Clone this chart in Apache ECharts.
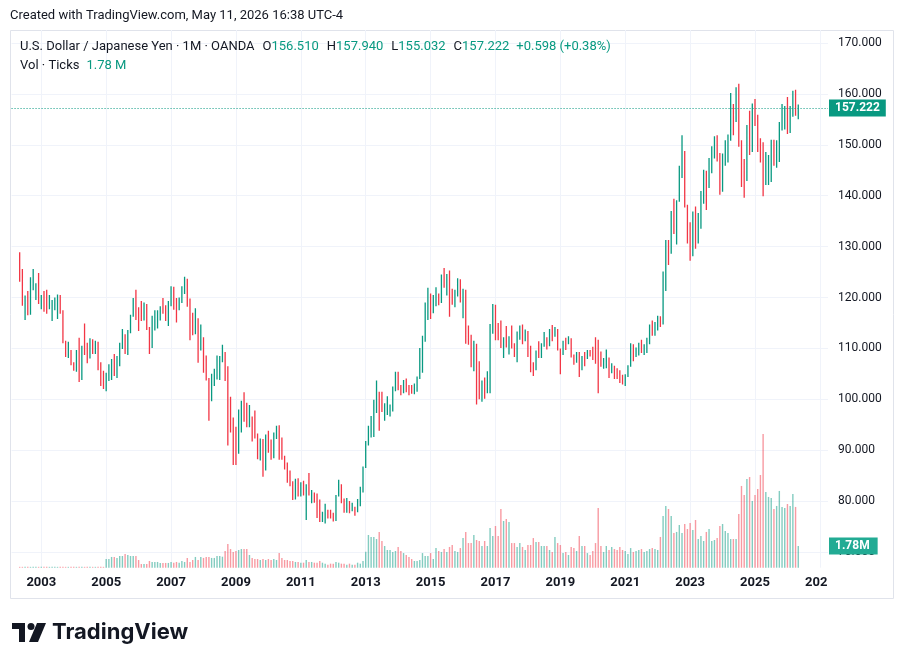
<!DOCTYPE html>
<html>
<head>
<meta charset="utf-8">
<script src="https://cdn.jsdelivr.net/npm/echarts@6/dist/echarts.min.js"></script>
<style>
  html, body { margin: 0; padding: 0; background: #ffffff; }
  #chart { width: 904px; height: 665px; }
</style>
</head>
<body>
<div id="chart"></div>
<script>
// USD/JPY monthly bars (OANDA), first bar May 2002, last bar May 2026
const firstBar = '2002-05'

const open = [
  128.6, 124.0, 119.5, 119.8, 118.4, 121.8, 122.4, 122.5, // 2002 May-Dec
  118.8, 119.9, 118.0, 117.9, 119.0, 119.3, 119.8, 120.5, 116.9, 111.4, 108.9, 109.6, // 2003
  107.2, 105.9, 109.1, 104.2, 110.4, 110.3, 108.8, 111.5, 109.3, 110.1, 105.8, 103.1, // 2004
  102.6, 103.6, 104.6, 107.2, 104.8, 108.3, 110.9, 112.4, 110.6, 113.3, 116.3, 119.6, // 2005
  117.8, 117.2, 115.9, 117.7, 113.9, 112.4, 114.5, 114.7, 117.4, 118.1, 116.9, 115.8, // 2006
  119.0, 121.0, 118.6, 117.8, 119.5, 121.7, 123.2, 119.2, 115.8, 114.8, 115.3, 111.2, // 2007
  111.7, 106.4, 104.0, 99.7, 104.0, 105.5, 106.2, 108.0, 108.8, 106.0, 98.4, 95.5, // 2008
  90.7, 89.9, 97.6, 98.9, 98.4, 95.3, 96.3, 94.7, 93.0, 89.7, 90.0, 86.2, // 2009
  93.0, 90.3, 88.9, 93.4, 94.0, 91.2, 88.4, 86.5, 84.2, 83.5, 80.4, 83.7, // 2010
  81.2, 82.1, 81.8, 83.1, 81.2, 81.5, 80.5, 76.7, 76.6, 77.0, 78.2, 77.6, // 2011
  76.9, 76.2, 81.1, 82.9, 80.0, 78.3, 79.8, 78.1, 78.4, 77.9, 79.8, 82.5, // 2012
  86.7, 91.7, 92.6, 94.2, 97.4, 100.4, 99.1, 97.9, 98.2, 98.3, 98.4, 102.4, // 2013
  105.3, 102.0, 101.8, 103.2, 102.2, 101.8, 101.3, 102.8, 104.1, 109.6, 112.3, 118.6, // 2014
  119.8, 117.5, 119.6, 120.1, 119.4, 124.1, 122.5, 124.0, 121.2, 119.9, 120.6, 123.1, // 2015
  120.2, 121.0, 112.7, 112.6, 106.5, 110.7, 103.2, 102.1, 103.4, 101.4, 104.8, 114.5, // 2016
  117.0, 112.8, 112.3, 111.4, 111.5, 110.8, 112.4, 110.3, 110.0, 112.5, 113.6, 112.5, // 2017
  112.7, 109.2, 106.7, 106.3, 109.3, 108.8, 110.7, 111.9, 111.0, 113.7, 112.9, 113.5, // 2018
  109.7, 108.9, 111.4, 110.9, 111.4, 108.3, 107.8, 108.8, 106.3, 108.1, 108.0, 109.5, // 2019
  108.7, 108.4, 107.9, 107.5, 107.2, 107.8, 107.9, 105.8, 105.9, 105.5, 104.7, 104.3, // 2020
  103.2, 104.7, 106.6, 110.7, 109.3, 109.6, 111.1, 109.7, 110.0, 111.3, 114.0, 113.2, // 2021
  115.08, 115.12, 115.0, 121.7, 129.8, 128.7, 135.7, 133.2, 138.9, 144.7, 148.7, 138.1, // 2022
  131.1, 130.1, 136.2, 132.8, 136.3, 139.3, 144.3, 142.3, 145.5, 149.4, 151.6, 148.2, // 2023
  141.0, 146.9, 150.0, 151.3, 157.8, 157.3, 160.9, 150.0, 146.2, 143.6, 152.0, 149.8, // 2024
  157.2, 155.2, 150.6, 149.9, 143.1, 144.0, 144.6, 150.7, 147.1, 148.0, 154.0, 156.1, // 2025
  156.7, 154.7, 156.0, 159.6, 156.51 // 2026 Jan-May
]

const high = [
  128.9, 125.6, 120.4, 121.3, 124.0, 125.6, 122.8, 124.8,
  120.5, 121.3, 121.5, 120.5, 119.5, 120.0, 120.6, 120.5, 117.5, 111.5, 111.3, 109.7,
  107.3, 109.7, 112.1, 110.5, 114.9, 111.1, 112.0, 111.8, 111.5, 111.3, 107.3, 105.6,
  105.2, 106.9, 107.9, 108.9, 108.5, 111.1, 113.8, 112.8, 113.6, 116.6, 119.9, 121.5,
  118.1, 119.3, 119.0, 118.7, 114.2, 116.4, 117.5, 117.5, 118.3, 119.9, 118.5, 119.3,
  122.2, 122.1, 119.9, 120.0, 122.2, 124.1, 123.7, 119.8, 117.0, 117.9, 115.9, 114.7,
  112.2, 108.6, 104.2, 105.0, 106.0, 108.6, 108.5, 110.7, 109.3, 106.5, 100.5, 96.4,
  94.6, 98.0, 99.7, 101.4, 99.3, 98.9, 96.6, 97.8, 93.3, 92.3, 92.2, 93.1,
  93.8, 92.1, 93.5, 94.8, 94.9, 92.5, 88.9, 87.6, 86.0, 83.9, 84.4, 84.5,
  83.7, 84.0, 83.3, 85.5, 82.2, 81.7, 81.5, 80.3, 77.9, 79.5, 78.3, 78.3,
  77.7, 81.2, 84.2, 83.3, 80.5, 80.6, 80.0, 79.7, 78.9, 80.4, 82.8, 86.8,
  91.8, 94.8, 96.7, 99.9, 103.7, 101.5, 101.5, 99.2, 100.6, 99.0, 102.5, 105.4,
  105.4, 102.8, 103.8, 104.1, 102.8, 102.8, 103.1, 104.5, 110.1, 112.5, 119.0, 121.9,
  120.8, 120.5, 122.0, 120.8, 124.5, 125.8, 124.6, 125.3, 121.7, 121.5, 123.8, 123.6,
  121.7, 121.5, 114.5, 112.7, 111.5, 110.9, 107.5, 103.7, 104.3, 105.5, 114.8, 118.7,
  118.6, 115.0, 115.5, 112.2, 114.4, 112.4, 114.5, 111.0, 113.3, 114.5, 114.7, 113.7,
  113.4, 110.5, 107.3, 109.6, 111.4, 111.0, 113.2, 112.2, 113.8, 114.6, 114.2, 113.8,
  110.0, 111.5, 112.1, 112.4, 112.0, 108.8, 109.3, 109.3, 108.5, 109.3, 109.7, 109.7,
  110.3, 112.2, 111.7, 109.4, 108.1, 109.8, 108.2, 107.1, 106.6, 106.1, 105.7, 104.8,
  104.9, 106.7, 111.0, 110.8, 110.2, 111.1, 111.7, 110.8, 112.1, 114.7, 115.5, 115.2,
  116.4, 116.3, 125.1, 131.3, 131.3, 137.0, 139.4, 139.1, 145.9, 151.9, 148.8, 138.2,
  134.8, 136.9, 137.9, 136.6, 140.9, 145.1, 144.9, 147.4, 149.7, 151.7, 151.9, 148.4,
  148.3, 150.9, 152.0, 160.2, 158.0, 161.3, 162.0, 150.9, 147.2, 153.9, 156.7, 158.1,
  159.0, 155.9, 151.3, 150.5, 148.6, 148.0, 151.0, 151.0, 150.9, 154.5, 158.0, 157.6,
  159.4, 157.6, 160.6, 160.8, 157.94
]

const low = [
  123.1, 118.4, 115.6, 116.5, 116.6, 121.4, 119.5, 118.7,
  117.7, 117.2, 116.8, 117.7, 115.4, 117.5, 115.8, 116.8, 111.0, 108.3, 108.1, 106.7,
  105.6, 105.4, 103.4, 103.8, 108.7, 107.1, 108.0, 108.9, 108.9, 105.7, 102.6, 102.0,
  101.6, 103.6, 103.8, 104.6, 104.2, 106.5, 109.9, 108.9, 108.7, 113.0, 116.2, 115.6,
  113.4, 115.4, 115.5, 113.6, 108.9, 110.1, 113.5, 113.9, 115.5, 116.8, 115.4, 114.4,
  118.3, 117.6, 115.1, 117.5, 118.9, 120.7, 118.2, 111.6, 112.6, 112.8, 107.2, 109.6,
  105.2, 103.7, 95.8, 99.6, 102.6, 103.9, 103.8, 107.3, 103.6, 90.9, 93.5, 87.1,
  87.1, 89.3, 93.5, 95.6, 94.5, 94.5, 91.7, 92.3, 88.2, 88.0, 84.8, 86.0,
  89.5, 88.1, 88.4, 92.2, 88.1, 88.1, 86.2, 83.6, 82.9, 80.2, 80.3, 80.9,
  80.9, 81.1, 76.3, 81.1, 79.6, 79.7, 76.7, 75.9, 75.9, 75.6, 76.6, 76.6,
  76.0, 76.1, 80.9, 79.6, 77.7, 77.7, 77.6, 78.0, 77.1, 77.8, 79.0, 81.7,
  86.5, 90.9, 92.5, 92.6, 97.3, 93.8, 97.5, 95.8, 96.9, 96.6, 97.6, 101.6,
  101.8, 100.8, 101.2, 101.4, 100.8, 101.1, 101.0, 101.5, 104.0, 105.2, 111.3, 115.6,
  115.8, 116.9, 118.3, 118.5, 118.9, 121.9, 120.4, 116.2, 118.6, 118.1, 120.2, 119.0,
  115.9, 110.9, 110.7, 106.3, 105.5, 99.0, 100.0, 99.5, 100.1, 101.2, 101.2, 112.9,
  111.6, 111.6, 110.1, 108.1, 110.2, 108.8, 110.0, 108.3, 107.3, 111.7, 110.8, 111.4,
  108.3, 105.3, 104.6, 105.7, 108.1, 108.1, 110.3, 109.8, 110.4, 111.4, 112.3, 109.6,
  104.9, 108.7, 109.7, 110.8, 108.2, 106.8, 107.2, 104.4, 105.7, 106.5, 107.9, 108.4,
  107.7, 107.0, 101.2, 106.4, 105.99, 106.1, 104.2, 105.1, 104.0, 104.0, 103.2, 102.9,
  102.6, 104.4, 106.4, 107.5, 108.3, 108.6, 109.1, 108.7, 109.1, 110.8, 112.5, 112.5,
  113.5, 114.2, 114.7, 121.3, 126.4, 128.6, 132.5, 130.4, 138.8, 143.5, 137.7, 130.6,
  127.2, 128.1, 129.6, 130.6, 133.5, 138.4, 137.2, 141.5, 144.4, 147.3, 146.7, 140.2,
  140.8, 145.9, 146.5, 150.8, 151.9, 154.5, 149.6, 141.7, 139.6, 142.9, 148.0, 148.6,
  153.7, 148.6, 146.5, 139.9, 142.1, 142.1, 142.7, 145.9, 145.5, 146.6, 152.8, 153.0,
  152.1, 152.3, 155.5, 155.7, 155.032
]

const close = [
  124.0, 119.5, 119.8, 118.4, 121.8, 122.4, 122.5, 118.8,
  119.9, 118.0, 117.9, 119.0, 119.3, 119.8, 120.5, 116.9, 111.4, 108.9, 109.6, 107.2,
  105.9, 109.1, 104.2, 110.4, 110.3, 108.8, 111.5, 109.3, 110.1, 105.8, 103.1, 102.6,
  103.6, 104.6, 107.2, 104.8, 108.3, 110.9, 112.4, 110.6, 113.3, 116.3, 119.6, 117.8,
  117.2, 115.9, 117.7, 113.9, 112.4, 114.5, 114.7, 117.4, 118.1, 116.9, 115.8, 119.0,
  121.0, 118.6, 117.8, 119.5, 121.7, 123.2, 119.2, 115.8, 114.8, 115.3, 111.2, 111.7,
  106.4, 104.0, 99.7, 104.0, 105.5, 106.2, 108.0, 108.8, 106.0, 98.4, 95.5, 90.7,
  89.9, 97.6, 98.9, 98.4, 95.3, 96.3, 94.7, 93.0, 89.7, 90.0, 86.2, 93.0,
  90.3, 88.9, 93.4, 94.0, 91.2, 88.4, 86.5, 84.2, 83.5, 80.4, 83.7, 81.2,
  82.1, 81.8, 83.1, 81.2, 81.5, 80.5, 76.7, 76.6, 77.0, 78.2, 77.6, 76.9,
  76.2, 81.1, 82.9, 80.0, 78.3, 79.8, 78.1, 78.4, 77.9, 79.8, 82.5, 86.7,
  91.7, 92.6, 94.2, 97.4, 100.4, 99.1, 97.9, 98.2, 98.3, 98.4, 102.4, 105.3,
  102.0, 101.8, 103.2, 102.2, 101.8, 101.3, 102.8, 104.1, 109.6, 112.3, 118.6, 119.8,
  117.5, 119.6, 120.1, 119.4, 124.1, 122.5, 124.0, 121.2, 119.9, 120.6, 123.1, 120.2,
  121.0, 112.7, 112.6, 106.5, 110.7, 103.2, 102.1, 103.4, 101.4, 104.8, 114.5, 117.0,
  112.8, 112.3, 111.4, 111.5, 110.8, 112.4, 110.3, 110.0, 112.5, 113.6, 112.5, 112.7,
  109.2, 106.7, 106.3, 109.3, 108.8, 110.7, 111.9, 111.0, 113.7, 112.9, 113.5, 109.7,
  108.9, 111.4, 110.9, 111.4, 108.3, 107.8, 108.8, 106.3, 108.1, 108.0, 109.5, 108.7,
  108.4, 107.9, 107.5, 107.2, 107.8, 107.9, 105.8, 105.9, 105.5, 104.7, 104.3, 103.2,
  104.7, 106.6, 110.7, 109.3, 109.6, 111.1, 109.7, 110.0, 111.3, 114.0, 113.2, 115.08,
  115.12, 115.0, 121.7, 129.8, 128.7, 135.7, 133.2, 138.9, 144.7, 148.7, 138.1, 131.1,
  130.1, 136.2, 132.8, 136.3, 139.3, 144.3, 142.3, 145.5, 149.4, 151.6, 148.2, 141.0,
  146.9, 150.0, 151.3, 157.8, 157.3, 160.9, 150.0, 146.2, 143.6, 152.0, 149.8, 157.2,
  155.2, 150.6, 149.9, 143.1, 144.0, 144.6, 150.7, 147.1, 148.0, 154.0, 156.1, 156.7,
  154.7, 156.0, 159.6, 156.51, 157.222
]

// tick volume, millions
const volume = [
  0.07, 0.07, 0.07, 0.07, 0.07, 0.07, 0.07, 0.07,
  0.07, 0.07, 0.07, 0.07, 0.07, 0.07, 0.07, 0.07, 0.07, 0.07, 0.07, 0.07,
  0.07, 0.07, 0.07, 0.07, 0.07, 0.07, 0.07, 0.07, 0.07, 0.07, 0.07, 0.07,
  0.71, 0.71, 0.88, 0.88, 0.80, 0.96, 0.96, 1.12, 1.04, 0.96, 0.96, 0.96,
  0.63, 0.30, 0.30, 0.30, 0.55, 0.47, 0.47, 0.47, 0.39, 0.39, 0.39, 0.39,
  0.47, 0.41, 0.47, 0.41, 0.55, 0.47, 0.80, 0.47, 0.63, 0.88, 0.63, 0.88,
  0.80, 0.88, 0.88, 0.80, 0.80, 0.96, 0.96, 0.90, 1.37, 1.94, 1.53, 1.29,
  1.37, 1.45, 1.53, 1.53, 1.53, 1.04, 0.80, 0.71, 0.71, 0.63, 0.71, 0.63,
  0.71, 0.63, 0.71, 0.63, 1.20, 0.80, 0.63, 0.63, 0.55, 0.55, 0.47, 0.47,
  0.41, 0.41, 0.63, 0.47, 0.47, 0.41, 0.41, 0.55, 0.41, 0.33, 0.25, 0.33,
  0.33, 0.47, 0.41, 0.33, 0.33, 0.25, 0.33, 0.25, 0.25, 0.41, 0.33, 0.55,
  1.31, 2.68, 2.52, 2.52, 2.35, 2.93, 2.19, 1.78, 1.45, 1.45, 1.29, 1.37,
  1.70, 1.37, 1.20, 1.04, 0.88, 0.71, 0.55, 0.55, 0.63, 1.20, 0.96, 0.96,
  1.20, 0.71, 1.61, 1.37, 1.29, 1.53, 1.29, 1.70, 1.86, 1.37, 1.29, 1.61,
  2.43, 2.93, 2.02, 2.02, 2.68, 2.27, 2.19, 1.78, 2.19, 1.78, 3.25, 2.60,
  3.42, 2.60, 4.81, 3.83, 3.99, 3.75, 2.02, 2.02, 1.70, 2.02, 1.70, 1.45,
  1.86, 1.86, 2.43, 2.11, 2.11, 1.78, 1.78, 1.78, 1.45, 1.29, 2.52, 2.02,
  1.86, 1.20, 1.29, 1.04, 1.70, 1.61, 1.37, 2.60, 1.78, 1.78, 1.20, 1.04,
  1.37, 2.02, 4.89, 1.78, 1.29, 1.78, 1.45, 1.70, 1.53, 1.45, 1.70, 1.45,
  1.37, 1.12, 1.61, 1.29, 1.37, 1.45, 1.53, 1.29, 1.37, 1.53, 1.61, 1.53,
  1.45, 2.52, 4.24, 5.06, 4.81, 4.24, 2.84, 2.93, 3.50, 2.84, 3.58, 3.17,
  3.66, 3.09, 3.91, 2.35, 2.60, 2.19, 2.93, 3.17, 2.19, 2.27, 2.43, 3.42,
  3.58, 3.01, 2.84, 2.35, 2.35, 2.35, 4.40, 6.70, 5.96, 7.27, 7.43, 5.47,
  5.96, 6.45, 7.60, 10.96, 6.20, 5.80, 5.71, 4.81, 5.06, 6.29, 4.98, 4.89,
  5.22, 5.06, 6.04, 4.98, 1.78
]

const priceTicks = [70, 80, 90, 100, 110, 120, 130, 140, 150, 160, 170]
const lastPrice = 157.222
const lastVolume = 1.78

// time axis runs Feb 2002 .. Apr 2027 (empty room left and right of the bars)
const months = []
for (let y = 2002; y <= 2027; y++) {
  for (let m = 1; m <= 12; m++) {
    if ((y === 2002 && m < 2) || (y === 2027 && m > 4)) continue
    months.push(y + '-' + String(m).padStart(2, '0'))
  }
}

const upColor = '#089981'
const downColor = '#f23645'
const volUp = 'rgba(8, 153, 129, 0.5)'
const volDown = 'rgba(242, 54, 69, 0.5)'
const gridColor = '#f0f3fa'
const textColor = '#131722'
const font = 'Roboto, "Noto Sans", sans-serif'

const offset = months.indexOf(firstBar)
const candleData = months.map((m, i) => {
  const k = i - offset
  if (k < 0 || k >= close.length) return '-'
  return [open[k], close[k], low[k], high[k]]
})
const volData = months.map((m, i) => {
  const k = i - offset
  if (k < 0 || k >= volume.length) return '-'
  return { value: volume[k], itemStyle: { color: close[k] >= open[k] ? volUp : volDown } }
})

// year labels every 2 years, on January
const isYearMark = (index, value) => {
  const y = +value.slice(0, 4)
  return value.slice(5) === '01' && y % 2 === 1
}

const chart = echarts.init(document.getElementById('chart'))

const legendText = (size, color, padLeft) => ({
  fontSize: size,
  fontWeight: 'normal',
  color: color,
  lineHeight: 19,
  padding: [0, 0, 0, padLeft],
  fontFamily: font
})

const option = {
  animation: false,
  backgroundColor: '#ffffff',
  textStyle: { fontFamily: font },
  title: [
    {
      text: 'Created with TradingView.com, May 11, 2026 16:38 UTC-4',
      left: 10,
      top: 9,
      padding: 0,
      textStyle: { fontSize: 13, fontWeight: 'normal', color: textColor, fontFamily: font }
    },
    {
      text:
        '{n|U.S. Dollar / Japanese Yen · 1M · OANDA}{k|O}{v|156.510}{k|H}{v|157.940}{k|L}{v|155.032}{k|C}{v|157.222}{c|+0.598 (+0.38%)}\n' +
        '{n|Vol · Ticks}{c|1.78 M}',
      left: 20,
      top: 37,
      padding: 0,
      textStyle: {
        fontFamily: font,
        fontWeight: 'normal',
        rich: {
          n: legendText(13, textColor, 0),
          k: legendText(13, textColor, 8),
          v: legendText(13, upColor, 0),
          c: legendText(13, upColor, 7)
        }
      }
    }
  ],
  grid: [
    // price pane: 170 at y=43, 70 at y=552
    { left: 11.56, right: 76, top: 43, bottom: 113 },
    // volume overlay + time axis: y=30 .. 568
    { left: 11.56, right: 76, top: 30, bottom: 97.3 }
  ],
  xAxis: [
    { type: 'category', gridIndex: 0, data: months, boundaryGap: false, show: false },
    {
      type: 'category',
      gridIndex: 1,
      data: months,
      boundaryGap: false,
      axisLine: { show: false },
      axisTick: { show: false },
      axisLabel: {
        interval: isYearMark,
        formatter: (v) => v.slice(0, 4),
        margin: 9,
        fontSize: 13,
        fontWeight: 'bold',
        color: textColor,
        fontFamily: font
      },
      splitLine: { show: true, interval: isYearMark, lineStyle: { color: gridColor, width: 1 } }
    }
  ],
  yAxis: [
    {
      type: 'value',
      gridIndex: 0,
      position: 'right',
      min: priceTicks[0],
      max: priceTicks[priceTicks.length - 1],
      interval: 10,
      axisLine: { show: false },
      axisTick: { show: false },
      axisLabel: {
        formatter: (v) => v.toFixed(3),
        margin: 10,
        fontSize: 12,
        color: textColor,
        fontFamily: font
      },
      splitLine: { lineStyle: { color: gridColor, width: 1 } }
    },
    { type: 'value', gridIndex: 1, min: 0, max: 44.07, show: false, splitLine: { show: false } }
  ],
  series: [
    {
      name: 'Vol',
      type: 'bar',
      xAxisIndex: 1,
      yAxisIndex: 1,
      data: volData,
      barWidth: 1.4,
      z: 1,
      markLine: {
        silent: true,
        symbol: ['none', 'none'],
        lineStyle: { color: 'rgba(0, 0, 0, 0)', width: 0 },
        data: [{ yAxis: lastVolume }],
        label: {
          show: true,
          position: 'end',
          distance: 1,
          formatter: lastVolume.toFixed(2) + 'M',
          color: '#ffffff',
          backgroundColor: '#22ab94',
          padding: [3, 8, 2, 6],
          fontSize: 12,
          fontWeight: 'bold',
          fontFamily: font
        }
      }
    },
    {
      name: 'USDJPY',
      type: 'candlestick',
      xAxisIndex: 0,
      yAxisIndex: 0,
      data: candleData,
      large: true,
      largeThreshold: 50,
      z: 3,
      itemStyle: {
        color: upColor,
        color0: downColor,
        borderColor: upColor,
        borderColor0: downColor,
        borderColorDoji: upColor,
        borderWidth: 1.3
      },
      markLine: {
        silent: true,
        symbol: ['none', 'none'],
        lineStyle: { color: upColor, type: [1, 2], width: 1 },
        data: [{ yAxis: lastPrice }],
        label: {
          position: 'end',
          distance: 1,
          formatter: lastPrice.toFixed(3),
          color: '#ffffff',
          backgroundColor: upColor,
          padding: [3, 6, 2, 6],
          fontSize: 12,
          fontWeight: 'bold',
          fontFamily: font
        }
      }
    }
  ],
  graphic: [
    {
      type: 'rect',
      silent: true,
      z: -10,
      shape: { x: 10.5, y: 30.5, width: 883, height: 568 },
      style: { fill: 'none', stroke: '#e0e3eb', lineWidth: 1 }
    },
    {
      // price scale column hides the tail of the last year label
      type: 'rect',
      silent: true,
      z: 100,
      shape: { x: 827, y: 569, width: 66, height: 29 },
      style: { fill: '#ffffff' }
    },
    // TradingView logo
    { type: 'rect', silent: true, shape: { x: 12, y: 623, width: 13, height: 6 }, style: { fill: textColor } },
    { type: 'rect', silent: true, shape: { x: 19, y: 623, width: 6, height: 19 }, style: { fill: textColor } },
    { type: 'circle', silent: true, shape: { cx: 31, cy: 626.5, r: 3.5 }, style: { fill: textColor } },
    {
      type: 'polygon',
      silent: true,
      shape: { points: [[37, 623], [46, 623], [38, 642], [29, 642]] },
      style: { fill: textColor }
    },
    {
      type: 'text',
      silent: true,
      x: 52,
      y: 621,
      style: { text: 'TradingView', font: 'bold 22px Inter, Roboto, sans-serif', fill: textColor }
    }
  ]
}

chart.setOption(option)
addEventListener('resize', () => {
  chart.resize()
})
</script>
</body>
</html>
